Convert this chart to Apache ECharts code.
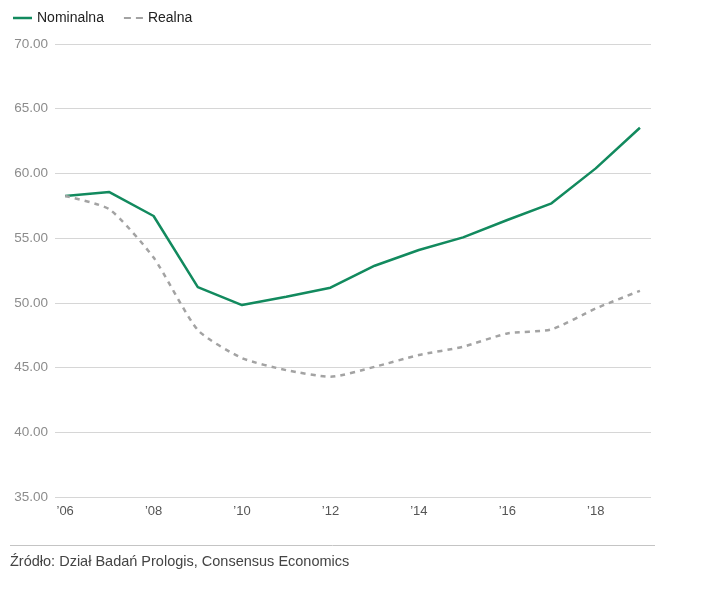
<!DOCTYPE html>
<html><head><meta charset="utf-8">
<script src="https://cdn.jsdelivr.net/npm/echarts@6/dist/echarts.min.js"></script>
<style>html,body{margin:0;padding:0;background:#fff}#c{width:717px;height:602px}</style>
</head><body><div id="c"></div>
<script>
const years = [2006,2007,2008,2009,2010,2011,2012,2013,2014,2015,2016,2017,2018,2019];
const nominalna = [58.26,58.56,56.71,51.22,49.83,50.47,51.17,52.87,54.08,55.06,56.40,57.69,60.39,63.53];
const realna = [58.26,57.23,53.50,47.90,45.73,44.80,44.29,45.06,45.97,46.61,47.64,47.95,49.57,50.93];
const xTickYears = [2006,2008,2010,2012,2014,2016,2018];
const seriesNames = ['Nominalna','Realna'];
const sourceText = 'Źródło: Dział Badań Prologis, Consensus Economics';

const font = '"Liberation Sans", Arial, sans-serif';
const green = '#128a5e', grey = '#a3a3a3';
const chart = echarts.init(document.getElementById('c'), null, {renderer:'canvas'});
chart.setOption({
  animation:false,
  textStyle:{fontFamily:font},
  legend:{
    left:8, top:6, itemGap:20, itemWidth:19, itemHeight:2.5,
    textStyle:{fontSize:14, color:'#222', fontFamily:font},
    data:[
      {name:seriesNames[0], icon:'rect', itemStyle:{color:green}},
      {name:seriesNames[1], icon:'path://M0,0h7v2h-7zM12,0h7v2h-7z', itemStyle:{color:grey}}
    ]
  },
  grid:{left:55, right:66, top:44, bottom:105, containLabel:false},
  xAxis:{
    type:'value', min:2005.77, max:2019.25,
    axisLine:{show:false}, axisTick:{show:false}, splitLine:{show:false},
    axisLabel:{
      customValues:xTickYears, color:'#555', fontSize:13, margin:8,
      formatter:v=>'’'+String(v).slice(2)
    }
  },
  yAxis:{
    type:'value', min:35, max:70, interval:5,
    axisLine:{show:false}, axisTick:{show:false},
    axisLabel:{color:'#8c8c8c', fontSize:13.5, margin:7, formatter:v=>v.toFixed(2)},
    splitLine:{lineStyle:{color:'#d6d6d6', width:1}}
  },
  series:[
    {name:seriesNames[0], type:'line', symbol:'none', data:years.map((y,i)=>[y,nominalna[i]]),
     lineStyle:{color:green, width:2.5}, itemStyle:{color:green}},
    {name:seriesNames[1], type:'line', symbol:'none', smooth:0.2, data:years.map((y,i)=>[y,realna[i]]),
     lineStyle:{color:grey, width:2.5, type:[5,5]}, itemStyle:{color:grey}}
  ],
  graphic:[
    {type:'line', shape:{x1:10, y1:545.5, x2:655, y2:545.5}, style:{stroke:'#c4c4c4', lineWidth:1}},
    {type:'text', left:10, top:554, style:{text:sourceText, fontSize:14.5, fill:'#444', fontFamily:font}}
  ]
});
</script></body></html>
